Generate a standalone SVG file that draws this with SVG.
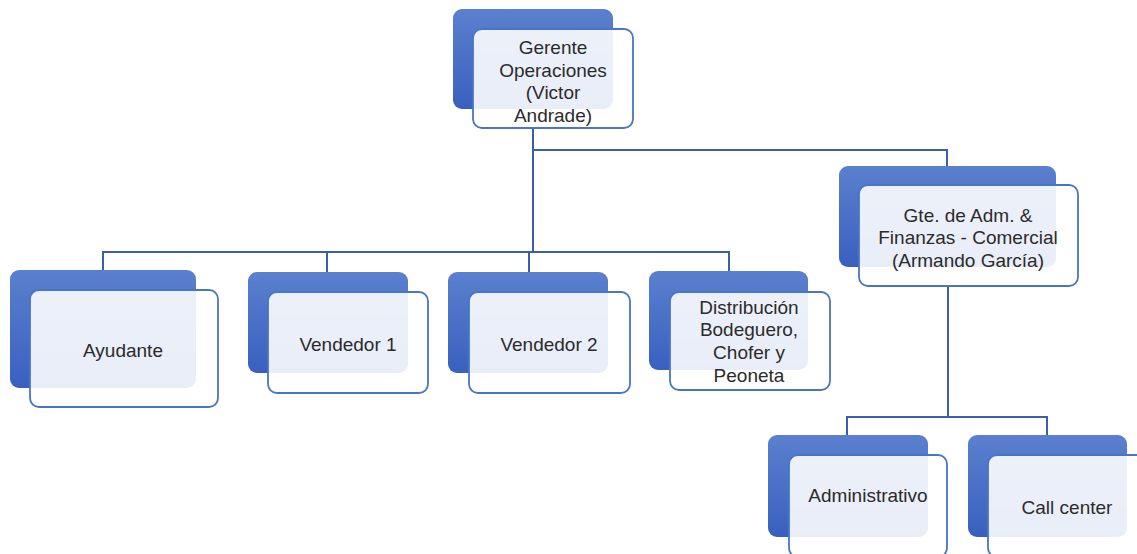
<svg xmlns="http://www.w3.org/2000/svg" width="1137" height="554" viewBox="0 0 1137 554">
<defs>
<linearGradient id="g" x1="0" y1="0" x2="0" y2="1">
<stop offset="0" stop-color="#5b80ce"/>
<stop offset="1" stop-color="#3960bf"/>
</linearGradient>
<style>
.back{fill:url(#g);}
.front{fill:#ffffff;fill-opacity:0.89;stroke:#4a74c6;stroke-width:1.8;}
.t{font-family:"Liberation Sans",Arial,sans-serif;font-size:19px;fill:#2b2b2b;text-anchor:middle;}
.c{fill:none;stroke:#3d5fab;stroke-width:2;}
</style>
</defs>
<rect width="1137" height="554" fill="#ffffff"/>
<g id="connectors">
<path class="c" d="M533 128V252" stroke-width="3"/>
<path class="c" d="M533 150H947V167"/>
<path class="c" d="M103 270V252H729V271"/>
<path class="c" d="M327 252V272"/>
<path class="c" d="M529 252V272"/>
<path class="c" d="M948 286V417"/>
<path class="c" d="M847 435V417H1047V435"/>
</g>
<g id="n-gerente">
<rect class="back" x="453" y="9" width="160" height="100" rx="9"/>
<rect class="front" x="473" y="29" width="160" height="99" rx="9"/>
<text class="t" x="553" y="54">Gerente</text>
<text class="t" x="553" y="76.5">Operaciones</text>
<text class="t" x="553" y="99">(Victor</text>
<text class="t" x="553" y="121.5">Andrade)</text>
</g>
<g id="n-gte">
<rect class="back" x="839" y="166" width="217" height="101" rx="9"/>
<rect class="front" x="859" y="185" width="219" height="101" rx="9"/>
<text class="t" x="968" y="222">Gte. de Adm. &amp;</text>
<text class="t" x="968" y="244">Finanzas - Comercial</text>
<text class="t" x="968" y="267">(Armando García)</text>
</g>
<g id="n-ayudante">
<rect class="back" x="10" y="270" width="186" height="118" rx="9"/>
<rect class="front" x="30" y="290" width="188" height="117" rx="9"/>
<text class="t" x="123" y="357">Ayudante</text>
</g>
<g id="n-vendedor1">
<rect class="back" x="248" y="272" width="160" height="101" rx="9"/>
<rect class="front" x="268" y="292" width="160" height="101" rx="9"/>
<text class="t" x="348" y="351">Vendedor 1</text>
</g>
<g id="n-vendedor2">
<rect class="back" x="448" y="272" width="160" height="101" rx="9"/>
<rect class="front" x="469" y="292" width="161" height="101" rx="9"/>
<text class="t" x="549" y="351">Vendedor 2</text>
</g>
<g id="n-distribucion">
<rect class="back" x="649" y="271" width="159" height="99" rx="9"/>
<rect class="front" x="670" y="292" width="160" height="98" rx="9"/>
<text class="t" x="749" y="314">Distribución</text>
<text class="t" x="749" y="336">Bodeguero,</text>
<text class="t" x="749" y="359">Chofer y</text>
<text class="t" x="749" y="382">Peoneta</text>
</g>
<g id="n-administrativo">
<rect class="back" x="768" y="435" width="160" height="102" rx="9"/>
<rect class="front" x="789" y="455" width="158" height="102" rx="9"/>
<text class="t" x="868" y="502">Administrativo</text>
</g>
<g id="n-callcenter">
<rect class="back" x="968" y="435" width="159" height="102" rx="9"/>
<rect class="front" x="988" y="455" width="160" height="102" rx="9"/>
<text class="t" x="1067" y="514">Call center</text>
</g>
</svg>
